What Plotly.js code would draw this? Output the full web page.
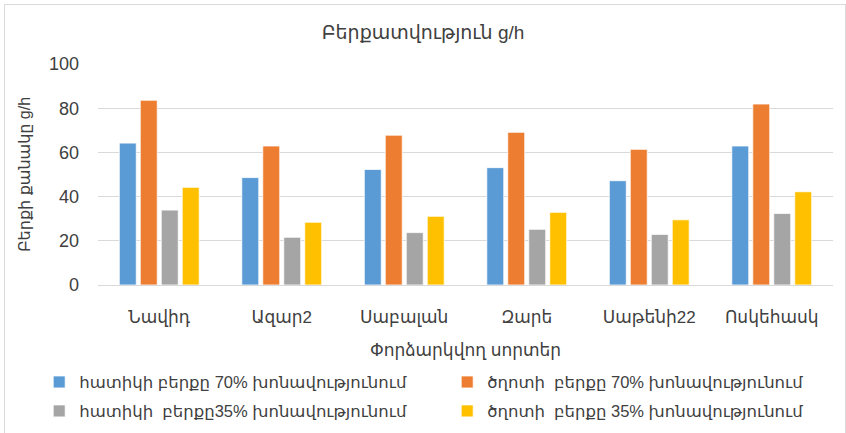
<!DOCTYPE html>
<html>
<head>
<meta charset="utf-8">
<script src="https://cdn.plot.ly/plotly-3.0.1.min.js"></script>
<style>
html,body{margin:0;padding:0;background:#fff;width:846px;height:433px;overflow:hidden;}
#chart{position:absolute;left:0;top:0;width:846px;height:433px;}
#frame{position:absolute;left:4px;top:4px;width:840px;height:440px;border:1px solid #d9d9d9;pointer-events:none;}
</style>
</head>
<body>
<div id="chart"></div>
<div id="frame"></div>
<script>
const categories = ["Նավիդ", "Ազար2", "Սաբալան", "Զարե", "Սաթենի22", "Ոսկեհասկ"];
const seriesNames = [
  "հատիկի բերքը 70% խոնավությունում",
  "ծղոտի  բերքը 70% խոնավությունում",
  "հատիկի  բերքը35% խոնավությունում",
  "ծղոտի  բերքը 35% խոնավությունում"
];
const grain70 = [64.2, 48.6, 52.3, 53.1, 47.2, 62.9];
const straw70 = [83.6, 62.9, 67.8, 69.1, 61.4, 81.9];
const grain35 = [33.9, 21.6, 23.7, 25.2, 22.9, 32.4];
const straw35 = [44.2, 28.4, 31.1, 32.9, 29.5, 42.2];
const colors = ["#5B9BD5", "#ED7D31", "#A5A5A5", "#FFC000"];
const yTicks = [0, 20, 40, 60, 80, 100];

const FONT = "Liberation Sans, DejaVu Sans, sans-serif";
const TXT = "#404040";

const values = [grain70, straw70, grain35, straw35];
const legendIds = ["legend", "legend", "legend2", "legend2"];
const traces = values.map((v, i) => ({
  type: "bar",
  name: seriesNames[i],
  x: categories,
  y: v,
  legend: legendIds[i],
  marker: {color: colors[i], line: {color: "rgba(255,255,255,0.8)", width: 1}},
  hoverinfo: "none"
}));

const legendBase = {
  orientation: "h",
  x: -0.08, xanchor: "left",
  yanchor: "middle",
  entrywidth: 363, entrywidthmode: "pixels",
  font: {family: FONT, size: 16.5, color: TXT},
  bgcolor: "rgba(0,0,0,0)",
  itemwidth: 30
};

const layout = {
  width: 846,
  height: 433,
  margin: {l: 98, r: 13, t: 64, b: 148, autoexpand: false},
  paper_bgcolor: "rgba(0,0,0,0)",
  plot_bgcolor: "#fff",
  barmode: "group",
  bargap: 0.315,
  bargroupgap: 0.19,
  font: {family: FONT, color: TXT, size: 17},
  title: {
    text: "Բերքատվություն g/h",
    font: {family: FONT, size: 19, color: TXT},
    x: 0.5, xanchor: "center",
    y: 31, yref: "container", yanchor: "middle"
  },
  xaxis: {
    type: "category",
    showgrid: false,
    showline: true,
    linecolor: "#D9D9D9",
    linewidth: 1,
    ticks: "",
    ticklabelstandoff: 17,
    tickfont: {family: FONT, size: 17, color: TXT},
    title: {text: "Փորձարկվող սորտեր", font: {family: FONT, size: 17, color: TXT}, standoff: 17}
  },
  yaxis: {
    range: [0, 100],
    tickvals: yTicks,
    ticktext: yTicks.map(String),
    showgrid: true,
    gridcolor: "#D9D9D9",
    gridwidth: 1,
    zeroline: false,
    showline: false,
    ticks: "",
    ticklabelstandoff: 18,
    tickfont: {family: FONT, size: 18, color: TXT},
    title: {text: "Բերքի քանակը g/h", font: {family: FONT, size: 16, color: TXT}, standoff: 14}
  },
  legend: Object.assign({}, legendBase, {y: -0.44}),
  legend2: Object.assign({}, legendBase, {y: -0.571}),
  showlegend: true
};

Plotly.newPlot("chart", traces, layout, {staticPlot: true, displayModeBar: false});
</script>
</body>
</html>
